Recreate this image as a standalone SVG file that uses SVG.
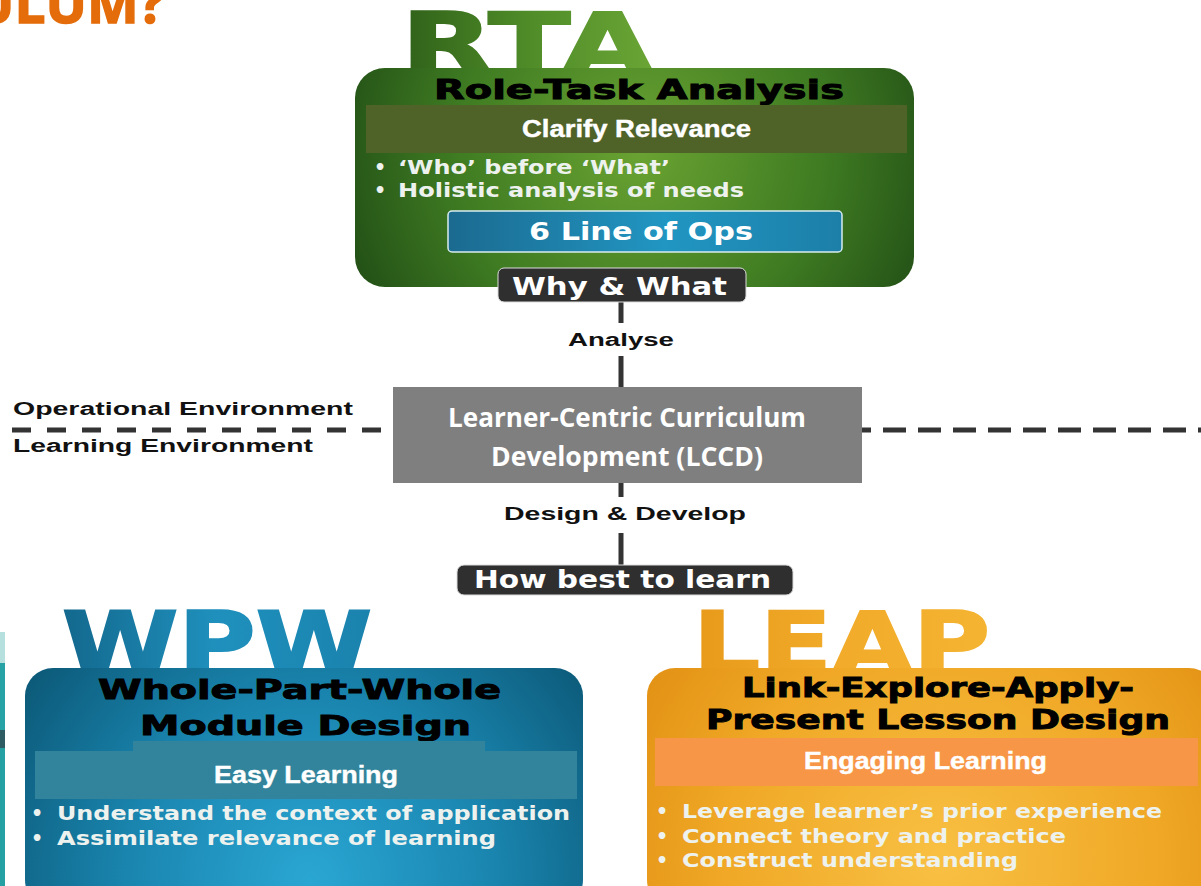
<svg xmlns="http://www.w3.org/2000/svg" width="1201" height="886" viewBox="0 0 1201 886">
<defs>
<radialGradient id="rtaGrad" gradientUnits="userSpaceOnUse" cx="640" cy="150" r="330">
<stop offset="0" stop-color="#6aa332"/><stop offset="0.55" stop-color="#3f7c22"/><stop offset="1" stop-color="#1f4a15"/>
</radialGradient>
<linearGradient id="rtaLetters" gradientUnits="userSpaceOnUse" x1="401" y1="0" x2="654" y2="0">
<stop offset="0" stop-color="#2f6019"/><stop offset="0.5" stop-color="#4f8c28"/><stop offset="1" stop-color="#6aa535"/>
</linearGradient>
<radialGradient id="wpwGrad" gradientUnits="userSpaceOnUse" cx="310" cy="880" r="360">
<stop offset="0" stop-color="#2aa6d3"/><stop offset="0.5" stop-color="#1a86b0"/><stop offset="1" stop-color="#0b5674"/>
</radialGradient>
<linearGradient id="wpwLetters" gradientUnits="userSpaceOnUse" x1="62" y1="0" x2="372" y2="0">
<stop offset="0" stop-color="#13688d"/><stop offset="0.5" stop-color="#1f90bd"/><stop offset="1" stop-color="#1a82ad"/>
</linearGradient>
<radialGradient id="leapGrad" gradientUnits="userSpaceOnUse" cx="940" cy="860" r="360">
<stop offset="0" stop-color="#f8c043"/><stop offset="0.6" stop-color="#f0a826"/><stop offset="1" stop-color="#e18f12"/>
</radialGradient>
<linearGradient id="leapLetters" gradientUnits="userSpaceOnUse" x1="693" y1="0" x2="990" y2="0">
<stop offset="0" stop-color="#e89a1a"/><stop offset="0.5" stop-color="#f2ab2a"/><stop offset="1" stop-color="#f4b432"/>
</linearGradient>
<linearGradient id="opsGrad" x1="0" y1="0" x2="1" y2="0">
<stop offset="0" stop-color="#1b6a90"/><stop offset="0.55" stop-color="#2196c2"/><stop offset="1" stop-color="#1c7fa8"/>
</linearGradient>
</defs>
<style>
.hv{font-family:"DejaVu Sans",Verdana,sans-serif;font-weight:bold}
.ls{font-family:"Liberation Sans",Arial,sans-serif;font-weight:bold}
.os{font-family:"Open Sans","Noto Sans",sans-serif;font-weight:bold}
.big{font-size:85px;stroke-width:2}
.title{font-size:26px;fill:#000;stroke:#000;stroke-width:0.9}
.band{font-size:23px;fill:#fff;stroke:#fff;stroke-width:0.4}
.bul{font-size:19px;fill:#eef2ee}
.tag{font-size:24px;fill:#fff}
.lbl{font-size:18px;fill:#111}
.tagbox{fill:#2f2f2f;stroke:#dcdcdc;stroke-width:1}
</style>
<rect width="1201" height="886" fill="#fff"/>

<g id="header">
<text class="os" font-size="55" x="-27" y="23" textLength="192" lengthAdjust="spacingAndGlyphs" fill="#e46c0a" stroke="#e46c0a" stroke-width="1.5">ULUM?</text>
</g>

<g id="left-strip">
<rect x="0" y="632" width="5" height="31" fill="#b5e0de"/>
<rect x="0" y="663" width="5" height="67" fill="#27a3a5"/>
<rect x="0" y="730" width="5" height="18" fill="#2e5a62"/>
<rect x="0" y="748" width="5" height="138" fill="#25a1a3"/>
</g>

<g id="connectors" stroke="#333" stroke-width="5" fill="none">
<line x1="621" y1="300" x2="621" y2="323"/>
<line x1="621" y1="356" x2="621" y2="388"/>
<line x1="621" y1="482" x2="621" y2="497"/>
<line x1="621" y1="533" x2="621" y2="566"/>
<line x1="12" y1="430" x2="390" y2="430" stroke-dasharray="19 16"/>
<line x1="848" y1="430" x2="1201" y2="430" stroke-dasharray="23 12"/>
</g>

<g id="node-rta">
<text class="hv big" x="401" y="74" textLength="253" lengthAdjust="spacingAndGlyphs" fill="url(#rtaLetters)" stroke="url(#rtaLetters)">RTA</text>
<rect x="355" y="68" width="559" height="219" rx="30" fill="url(#rtaGrad)"/>
<text class="hv title" x="434" y="99" textLength="410" lengthAdjust="spacingAndGlyphs">Role-Task Analysis</text>
<rect x="366" y="105" width="541" height="48" fill="#4f6228"/>
<text class="ls band" x="522" y="137" textLength="229" lengthAdjust="spacingAndGlyphs">Clarify Relevance</text>
<text class="hv bul" x="374" y="174">•</text>
<text class="hv bul" x="398" y="174" textLength="272" lengthAdjust="spacingAndGlyphs">‘Who’ before ‘What’</text>
<text class="hv bul" x="374" y="197">•</text>
<text class="hv bul" x="398" y="197" textLength="346" lengthAdjust="spacingAndGlyphs">Holistic analysis of needs</text>
<rect x="448" y="211" width="394" height="41" rx="4" fill="url(#opsGrad)" stroke="#d8ecf0" stroke-width="1.5"/>
<text class="hv" font-size="25" x="529" y="240" textLength="224" lengthAdjust="spacingAndGlyphs" fill="#fff">6 Line of Ops</text>
</g>

<g id="tag-why">
<rect class="tagbox" x="498" y="268" width="248" height="34" rx="6"/>
<text class="hv tag" x="512" y="295" textLength="215" lengthAdjust="spacingAndGlyphs">Why &amp; What</text>
</g>

<g id="label-analyse">
<text class="ls lbl" x="568" y="346" textLength="106" lengthAdjust="spacingAndGlyphs">Analyse</text>
</g>

<g id="env-labels">
<text class="ls lbl" x="13" y="415" textLength="340" lengthAdjust="spacingAndGlyphs">Operational Environment</text>
<text class="ls lbl" x="13" y="452" textLength="300" lengthAdjust="spacingAndGlyphs">Learning Environment</text>
</g>

<g id="node-lccd">
<rect x="393" y="387" width="469" height="96" fill="#7f7f7f"/>
<text class="os" font-size="26" fill="#fff" x="448" y="427" textLength="358" lengthAdjust="spacingAndGlyphs">Learner-Centric Curriculum</text>
<text class="os" font-size="26" fill="#fff" x="491" y="466" textLength="272" lengthAdjust="spacingAndGlyphs">Development (LCCD)</text>
</g>

<g id="label-design">
<text class="ls lbl" x="504" y="520" textLength="242" lengthAdjust="spacingAndGlyphs">Design &amp; Develop</text>
</g>

<g id="tag-how">
<rect class="tagbox" x="457" y="565" width="336" height="30" rx="7"/>
<text class="hv tag" x="474" y="588" textLength="297" lengthAdjust="spacingAndGlyphs">How best to learn</text>
</g>

<g id="node-wpw">
<text class="hv big" x="62" y="673" textLength="310" lengthAdjust="spacingAndGlyphs" fill="url(#wpwLetters)" stroke="url(#wpwLetters)">WPW</text>
<rect x="25" y="668" width="558" height="240" rx="28" fill="url(#wpwGrad)"/>
<text class="hv title" x="98" y="699" textLength="403" lengthAdjust="spacingAndGlyphs">Whole-Part-Whole</text>
<text class="hv title" x="140" y="735" textLength="331" lengthAdjust="spacingAndGlyphs">Module Design</text>
<path d="M35 751 H133 V741 H485 V751 H577 V799 H35 Z" fill="#31849b"/>
<text class="ls band" x="214" y="783" textLength="184" lengthAdjust="spacingAndGlyphs">Easy Learning</text>
<text class="hv bul" x="31" y="820">•</text>
<text class="hv bul" x="57" y="820" textLength="513" lengthAdjust="spacingAndGlyphs">Understand the context of application</text>
<text class="hv bul" x="31" y="845">•</text>
<text class="hv bul" x="57" y="845" textLength="439" lengthAdjust="spacingAndGlyphs">Assimilate relevance of learning</text>
</g>

<g id="node-leap">
<text class="hv big" x="693" y="673" textLength="297" lengthAdjust="spacingAndGlyphs" fill="url(#leapLetters)" stroke="url(#leapLetters)">LEAP</text>
<rect x="647" y="668" width="570" height="240" rx="28" fill="url(#leapGrad)"/>
<text class="hv title" x="742" y="697" textLength="392" lengthAdjust="spacingAndGlyphs">Link-Explore-Apply-</text>
<text class="hv title" x="706" y="729" textLength="464" lengthAdjust="spacingAndGlyphs">Present Lesson Design</text>
<rect x="655" y="738" width="543" height="48" fill="#f79646"/>
<text class="ls band" x="804" y="769" textLength="243" lengthAdjust="spacingAndGlyphs">Engaging Learning</text>
<text class="hv bul" x="656" y="818">•</text>
<text class="hv bul" x="682" y="818" textLength="480" lengthAdjust="spacingAndGlyphs">Leverage learner’s prior experience</text>
<text class="hv bul" x="656" y="843">•</text>
<text class="hv bul" x="682" y="843" textLength="384" lengthAdjust="spacingAndGlyphs">Connect theory and practice</text>
<text class="hv bul" x="656" y="867">•</text>
<text class="hv bul" x="682" y="867" textLength="336" lengthAdjust="spacingAndGlyphs">Construct understanding</text>
</g>
</svg>
